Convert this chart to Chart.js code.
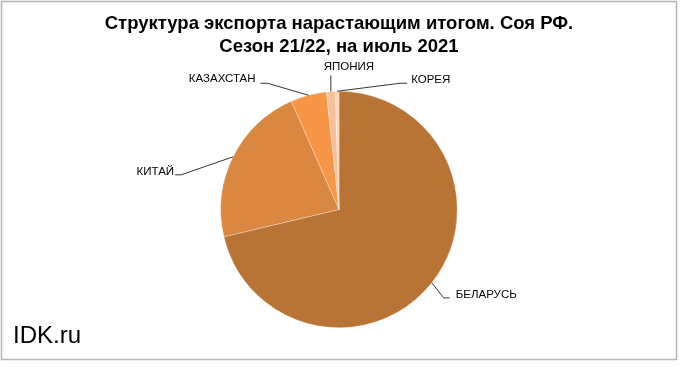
<!DOCTYPE html>
<html>
<head>
<meta charset="utf-8">
<script src="https://cdn.jsdelivr.net/npm/chart.js@4/dist/chart.umd.min.js"></script>
<style>
  html, body { margin: 0; padding: 0; background: #fff; }
  .chart { width: 680px; height: 367px; position: relative; }
</style>
</head>
<body>
<div class="chart"><canvas id="myChart"></canvas></div>
<script>
// data (share of exports, %)
const countries = ["БЕЛАРУСЬ", "КИТАЙ", "КАЗАХСТАН", "ЯПОНИЯ", "КОРЕЯ"];
const shares = [71.3, 22.1, 4.9, 1.2, 0.5];
const sliceColors = ["#B97335", "#DA8841", "#F79646", "#FABF98", "#FCD6BA"];

// leader line layout per label: elbow offset from arc edge, tail, text offset
const leaderLayout = [
  { dx: 12, dy: 15, tail: 6, tx: 6, ty: -3, align: "left" },
  { dx: -52, dy: 18, tail: -6, tx: -1, ty: -3, align: "right" },
  { dx: -41, dy: -12, tail: -7, tx: -5, ty: -4, align: "right" },
  { dx: 0, dy: -16, tail: 0, tx: 18, ty: -9, align: "center" },
  { dx: 63, dy: -8, tail: 7, tx: 4, ty: -3, align: "left" }
];

const canvas = document.getElementById("myChart");
const ctx = canvas.getContext("2d");

// 🔹 leader lines + labels
const leaderPlugin = {
  id: "leaders",
  afterDatasetsDraw(chart) {
    const c = chart.ctx;
    const arcs = chart.getDatasetMeta(0).data;
    c.save();
    c.strokeStyle = "#000";
    c.lineWidth = 0.8;
    c.fillStyle = "#000";
    c.font = "11.5px 'Liberation Sans', Arial, sans-serif";
    c.textBaseline = "middle";
    arcs.forEach((arc, i) => {
      const p = arc.getProps(["x", "y", "startAngle", "endAngle", "outerRadius"], true);
      const mid = (p.startAngle + p.endAngle) / 2;
      const ax = p.x + Math.cos(mid) * p.outerRadius;
      const ay = p.y + Math.sin(mid) * p.outerRadius;
      const l = leaderLayout[i];
      const bx = ax + l.dx;
      const by = ay + l.dy;
      const ex = bx + l.tail;
      c.beginPath();
      c.moveTo(ax, ay);
      c.lineTo(bx, by);
      c.lineTo(ex, by);
      c.stroke();
      c.textAlign = l.align;
      c.fillText(countries[i], ex + l.tx, by + l.ty);
    });
    c.restore();
  }
};

// 🔹 frame + watermark
const framePlugin = {
  id: "frame",
  afterDraw(chart) {
    const c = chart.ctx;
    c.save();
    c.strokeStyle = "#B4B4B4";
    c.lineWidth = 1.5;
    c.strokeRect(1.5, 1.5, 675, 358);
    c.fillStyle = "#000";
    c.font = "24px 'Liberation Sans', Arial, sans-serif";
    c.textAlign = "left";
    c.textBaseline = "alphabetic";
    c.fillText("IDK.ru", 13, 343);
    c.restore();
  }
};

new Chart(ctx, {
  type: "pie",
  data: {
    labels: countries,
    datasets: [{
      data: shares,
      backgroundColor: sliceColors,
      borderColor: "rgba(255,255,255,0.6)",
      borderWidth: 0.5
    }]
  },
  options: {
    responsive: true,
    maintainAspectRatio: false,
    animation: false,
    layout: {
      padding: { top: 0, bottom: 39, left: 0, right: 2 }
    },
    plugins: {
      legend: { display: false },
      tooltip: { enabled: false },
      title: {
        display: true,
        text: ["Структура экспорта нарастающим итогом. Соя РФ.", "Сезон 21/22, на июль 2021"],
        color: "#000",
        font: { family: "'Liberation Sans Narrow', 'Liberation Sans', Arial, sans-serif", size: 18.5, weight: "bold", lineHeight: 1.27 },
        padding: { top: 12, bottom: 32 }
      }
    }
  },
  plugins: [leaderPlugin, framePlugin]
});
</script>
</body>
</html>
